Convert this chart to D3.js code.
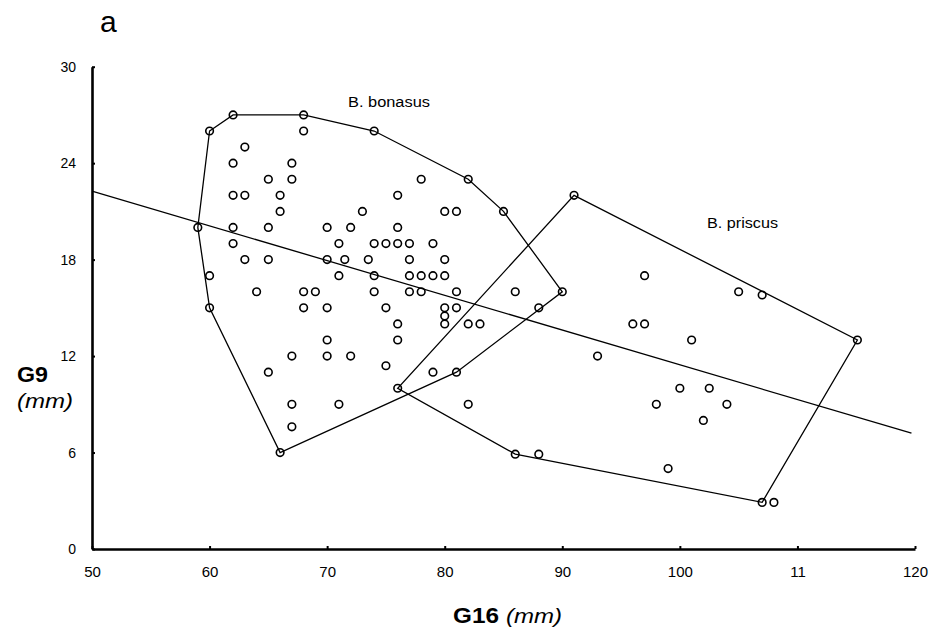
<!DOCTYPE html>
<html>
<head>
<meta charset="utf-8">
<script src="https://cdn.jsdelivr.net/npm/d3@7"></script>
<style>
  body { margin: 0; background: #fff; }
  text { font-family: "Liberation Sans", Arial, sans-serif; fill: #000; }
</style>
</head>
<body>
<script>
// G16 vs G9 scatter, two species with hulls and a regression line

var width = 929;
var height = 630;

// ticks
var xTicks = [50, 60, 70, 80, 90, 100, 110, 120];
var xTickLabels = ["50", "60", "70", "80", "90", "100", "11", "120"];
var yTicks = [0, 6, 12, 18, 24, 30];
var yTickLabels = ["0", "6", "12", "18", "24", "30"];

// B. bonasus points [G16, G9]
var bonasus = [
  [62,27],[68,27],
  [60,26],[68,26],[74,26],
  [63,25],
  [62,24],[67,24],
  [65,23],[67,23],[78,23],[82,23],
  [62,22],[63,22],[66,22],[76,22],
  [66,21],[73,21],[80,21],[81,21],[85,21],
  [59,20],[62,20],[65,20],[70,20],[72,20],[76,20],
  [62,19],[71,19],[74,19],[75,19],[76,19],[77,19],[79,19],
  [63,18],[65,18],[70,18],[71.5,18],[73.5,18],[77,18],[80,18],
  [60,17],[71,17],[74,17],[77,17],[78,17],[79,17],[80,17],
  [64,16],[68,16],[69,16],[74,16],[77,16],[78,16],[81,16],[90,16],
  [60,15],[68,15],[70,15],[75,15],[80,15],[81,15],
  [80,14.5],
  [76,14],[80,14],[82,14],[83,14],
  [70,13],[76,13],
  [67,12],[70,12],[72,12],
  [75,11.4],
  [65,11],[79,11],[81,11],
  [67,9],[71,9],
  [67,7.6],
  [66,6]
];

// B. priscus points [G16, G9]
var priscus = [
  [91,22],[97,17],[86,16],[105,16],[107,15.8],[88,15],
  [96,14],[97,14],[101,13],[115.1,13],[93,12],
  [76,10],[100,10],[102.5,10],[82,9],[98,9],[104,9],[102,8],
  [86,5.9],[88,5.9],[99,5],[107,2.9],[108,2.9]
];

// hull outlines
var bonasusHull = [[60,26],[62,27],[68,27],[74,26],[82,23],[85,21],[90,16],[81,11],[66,6],[60,15],[59,20]];
var priscusHull = [[91,22],[115.1,13],[107,2.9],[86,5.9],[76,10]];

// regression line ends
var regLine = [[50,22.26],[119.7,7.2]];

var svg = d3.select("body").append("svg")
    .attr("width", width)
    .attr("height", height);

var x = d3.scaleLinear().domain([50, 120]).range([92, 915]);
var y = d3.scaleLinear().domain([0, 30]).range([549, 66.7]);

// axes
var xAxis = d3.axisBottom(x)
    .tickValues(xTicks)
    .tickFormat(function(d, i) { return xTickLabels[i]; })
    .tickSizeInner(-3)
    .tickSizeOuter(0)
    .tickPadding(17);

var yAxis = d3.axisLeft(y)
    .tickValues(yTicks)
    .tickFormat(function(d, i) { return yTickLabels[i]; })
    .tickSizeInner(-3)
    .tickSizeOuter(0)
    .tickPadding(16);

var gx = svg.append("g").attr("transform", "translate(0," + y(0) + ")").call(xAxis);
var gy = svg.append("g").attr("transform", "translate(" + x(50) + ",0)").call(yAxis);

[gx, gy].forEach(function(g) {
  g.select(".domain").attr("stroke", "#000").attr("stroke-width", 2.6);
  g.selectAll(".tick line").attr("stroke", "#000").attr("stroke-width", 2);
  g.selectAll(".tick text").attr("fill", "#000")
    .style("font-family", "'Liberation Sans', Arial, sans-serif");
});
gx.selectAll(".tick text").style("font-size", "15px");
gy.selectAll(".tick text").style("font-size", "14px");

var line = d3.line()
    .x(function(d) { return x(d[0]); })
    .y(function(d) { return y(d[1]); });

// regression
svg.append("path")
    .attr("d", line(regLine))
    .attr("fill", "none")
    .attr("stroke", "#000")
    .attr("stroke-width", 1.3);

// hulls
[bonasusHull, priscusHull].forEach(function(h) {
  svg.append("path")
    .attr("d", line(h) + "Z")
    .attr("fill", "none")
    .attr("stroke", "#000")
    .attr("stroke-width", 1.3);
});

// points
svg.append("g").selectAll("circle")
  .data(bonasus.concat(priscus))
  .enter()
  .append("circle")
    .attr("cx", function(d) { return x(d[0]); })
    .attr("cy", function(d) { return y(d[1]); })
    .attr("r", 3.8)
    .attr("fill", "none")
    .attr("stroke", "#000")
    .attr("stroke-width", 1.6);

// labels (reference text is a bit wider than the font, so stretch it)
svg.append("text").attr("x", 100).attr("y", 32)
    .style("font-size", "30px").text("a");

svg.append("text").attr("x", 348).attr("y", 107)
    .attr("textLength", 82).attr("lengthAdjust", "spacingAndGlyphs")
    .style("font-size", "14px").text("B. bonasus");
svg.append("text").attr("x", 707).attr("y", 228)
    .attr("textLength", 71).attr("lengthAdjust", "spacingAndGlyphs")
    .style("font-size", "14px").text("B. priscus");

svg.append("text").attr("x", 17).attr("y", 382)
    .attr("textLength", 31).attr("lengthAdjust", "spacingAndGlyphs")
    .style("font-size", "22px").style("font-weight", "bold").text("G9");
svg.append("text").attr("x", 17).attr("y", 408)
    .attr("textLength", 56).attr("lengthAdjust", "spacingAndGlyphs")
    .style("font-size", "21px").style("font-style", "italic").text("(mm)");

svg.append("text").attr("x", 453).attr("y", 623)
    .attr("textLength", 46).attr("lengthAdjust", "spacingAndGlyphs")
    .style("font-size", "22px").style("font-weight", "bold").text("G16");
svg.append("text").attr("x", 506).attr("y", 623)
    .attr("textLength", 56).attr("lengthAdjust", "spacingAndGlyphs")
    .style("font-size", "21px").style("font-style", "italic").text("(mm)");
</script>
</body>
</html>
